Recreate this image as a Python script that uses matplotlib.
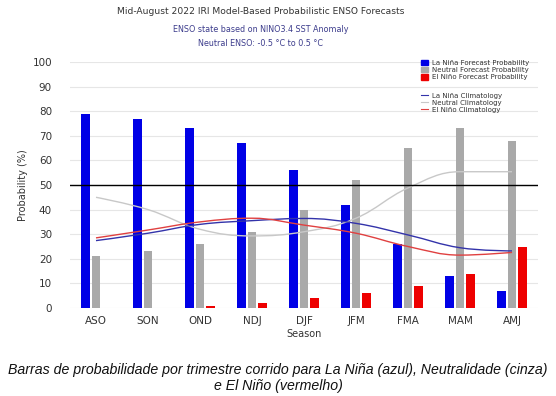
import numpy as np
import matplotlib
matplotlib.use("Agg")
import matplotlib.pyplot as plt
from matplotlib.path import Path
from matplotlib.patches import PathPatch, Patch
from matplotlib.lines import Line2D

# season labels and forecast probabilities (%)
seasons = ["ASO", "SON", "OND", "NDJ", "DJF", "JFM", "FMA", "MAM", "AMJ"]
la_nina = [79, 77, 73, 67, 56, 42, 26, 13, 7]
neutral = [21, 23, 26, 31, 40, 52, 65, 73, 68]
el_nino = [0, 0, 1, 2, 4, 6, 9, 14, 25]

# climatology curves (%)
clim_la_nina = [27.4, 30.4, 34.0, 35.5, 36.4, 34.4, 29.7, 24.5, 23.2]
clim_neutral = [45.0, 40.0, 32.0, 29.3, 31.0, 36.5, 48.8, 55.4, 55.4]
clim_el_nino = [28.5, 31.7, 35.0, 36.5, 33.7, 30.4, 25.0, 21.5, 22.6]

BLUE = "#0000e6"
GRAY = "#a9a9a9"
RED = "#ee0000"


def spline_path(xs, ys, smoothing=1.5):
    # spline like the web chart library: control points clamped at local extremes
    n = len(xs)
    denom = smoothing + 1
    left = [(xs[i], ys[i]) for i in range(n)]
    right = [(xs[i], ys[i]) for i in range(n)]
    for i in range(1, n - 1):
        px, py = xs[i], ys[i]
        lx, ly = xs[i - 1], ys[i - 1]
        nx, ny = xs[i + 1], ys[i + 1]
        lcx = (smoothing * px + lx) / denom
        lcy = (smoothing * py + ly) / denom
        rcx = (smoothing * px + nx) / denom
        rcy = (smoothing * py + ny) / denom
        corr = (rcy - lcy) * (rcx - px) / (rcx - lcx) + py - rcy
        lcy += corr
        rcy += corr
        if lcy > ly and lcy > py:
            lcy = max(ly, py)
            rcy = 2 * py - lcy
        elif lcy < ly and lcy < py:
            lcy = min(ly, py)
            rcy = 2 * py - lcy
        if rcy > ny and rcy > py:
            rcy = max(ny, py)
            lcy = 2 * py - rcy
        elif rcy < ny and rcy < py:
            rcy = min(ny, py)
            lcy = 2 * py - rcy
        left[i] = (lcx, lcy)
        right[i] = (rcx, rcy)
    verts = [(xs[0], ys[0])]
    codes = [Path.MOVETO]
    for i in range(1, n):
        verts += [right[i - 1], left[i], (xs[i], ys[i])]
        codes += [Path.CURVE4] * 3
    return Path(verts, codes)


fig = plt.figure(figsize=(5.56, 3.96), dpi=100)
ax = fig.add_axes([70 / 556, 1 - 308 / 396, 468 / 556, 246 / 396])

x = np.arange(len(seasons))
w = 0.17
off = 0.2
ax.bar(x - off, la_nina, w, color=BLUE, zorder=3)
ax.bar(x, neutral, w, color=GRAY, zorder=3)
ax.bar(x + off, el_nino, w, color=RED, zorder=3)

for vals, col in [(clim_neutral, "#c8c8c8"), (clim_la_nina, "#3333aa"), (clim_el_nino, "#e04040")]:
    ax.add_patch(PathPatch(spline_path(x, vals), fill=False, edgecolor=col, lw=1.0, zorder=4))

ax.axhline(50, color="black", lw=1.0, zorder=5)

ax.set_xlim(-0.5, 8.5)
ax.set_ylim(0, 100)
ax.set_yticks(range(0, 101, 10))
ax.set_xticks(x)
ax.set_xticklabels(seasons)
ax.grid(axis="y", color="#e6e6e6", lw=0.8, zorder=0)
for s in ax.spines.values():
    s.set_visible(False)
ax.tick_params(axis="both", length=0, labelsize=7.5, colors="#333333")
ax.tick_params(axis="y", pad=13)
ax.tick_params(axis="x", pad=6)
ax.set_xlabel("Season", fontsize=7, color="#333333", labelpad=2)
ax.set_ylabel("Probability (%)", fontsize=7, color="#333333", labelpad=3)

bar_handles = [Patch(color=BLUE), Patch(color=GRAY), Patch(color=RED)]
bar_labels = ["La Niña Forecast Probability", "Neutral Forecast Probability", "El Niño Forecast Probability"]
line_handles = [Line2D([], [], color="#3333aa", lw=0.8), Line2D([], [], color="#c8c8c8", lw=0.8),
                Line2D([], [], color="#e04040", lw=0.8)]
line_labels = ["La Niña Climatology", "Neutral Climatology", "El Niño Climatology"]

leg_kw = dict(frameon=False, fontsize=5, labelspacing=0.15, handlelength=0.9, handleheight=0.8,
              handletextpad=0.6, borderpad=0, labelcolor="#333333")
fig.legend(bar_handles, bar_labels, loc="upper left", bbox_to_anchor=(418 / 556, 1 - 56.5 / 396), **leg_kw)
fig.legend(line_handles, line_labels, loc="upper left", bbox_to_anchor=(418 / 556, 1 - 89 / 396), **leg_kw)

fig.text(261 / 556, 1 - 12 / 396, "Mid-August 2022 IRI Model-Based Probabilistic ENSO Forecasts",
         ha="center", va="center", fontsize=6.6, color="#333333")
fig.text(261 / 556, 1 - 29 / 396, "ENSO state based on NINO3.4 SST Anomaly",
         ha="center", va="center", fontsize=5.8, color="#3c3c8c")
fig.text(261 / 556, 1 - 44 / 396, "Neutral ENSO: -0.5 °C to 0.5 °C",
         ha="center", va="center", fontsize=5.8, color="#3c3c8c")

fig.text(278 / 556, 1 - 378 / 396,
         "Barras de probabilidade por trimestre corrido para La Niña (azul), Neutralidade (cinza)\ne El Niño (vermelho)",
         ha="center", va="center", fontsize=10.2, style="italic", family="Liberation Sans",
         color="#111111", linespacing=1.15)

fig.savefig("out.png", dpi=100)
